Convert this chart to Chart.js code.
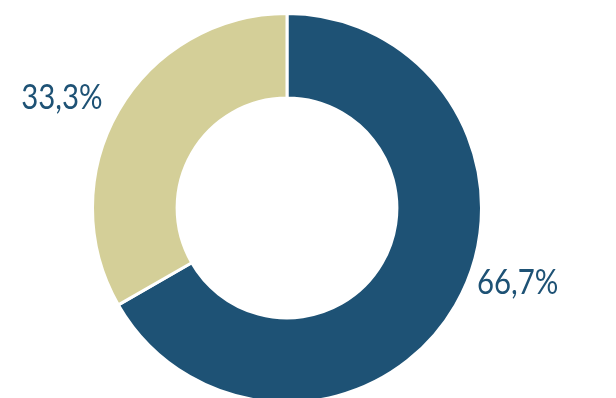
<!DOCTYPE html>
<html>
<head>
<meta charset="utf-8">
<script src="https://cdn.jsdelivr.net/npm/chart.js@4"></script>
<style>
  html, body { margin: 0; padding: 0; background: #fff; overflow: hidden; }
  #wrap { width: 616px; height: 398px; }
</style>
</head>
<body>
<div id="wrap"><canvas id="grafico" width="616" height="398"></canvas></div>
<script>
const categorie = ['A', 'B'];
const valori = [66.7, 33.3];
const colori = ['#1e5275', '#d4cf98'];
// angle (deg, canvas convention) and distance beyond the ring for each label
const angoliEtichette = [18, 206];
const distanzeEtichette = [48, 56];

const etichettePlugin = {
  id: 'etichette',
  afterDatasetsDraw(chart) {
    const ctx = chart.ctx;
    const meta = chart.getDatasetMeta(0);
    meta.data.forEach((arc, i) => {
      const a = angoliEtichette[i] * Math.PI / 180;
      const r = arc.outerRadius + distanzeEtichette[i];
      const x = arc.x + Math.cos(a) * r;
      const y = arc.y + Math.sin(a) * r;
      const testo = valori[i].toFixed(1).replace('.', ',') + '%';
      ctx.save();
      ctx.translate(x, y);
      ctx.scale(0.84, 1);
      ctx.font = '400 35px Lato';
      ctx.fillStyle = '#1e5275';
      ctx.textAlign = 'center';
      ctx.textBaseline = 'middle';
      ctx.fillText(testo, 0, 0);
      ctx.restore();
    });
  }
};

new Chart(document.getElementById('grafico').getContext('2d'), {
  type: 'doughnut',
  data: {
    labels: categorie,
    datasets: [{
      data: valori,
      backgroundColor: colori,
      borderColor: '#ffffff',
      borderWidth: 3,
      hoverOffset: 0
    }]
  },
  options: {
    responsive: false,
    animation: false,
    radius: 194.5,
    cutout: '56.5%',
    layout: { padding: { top: 18, right: 42 } },
    plugins: {
      legend: { display: false },
      tooltip: { enabled: false }
    }
  },
  plugins: [etichettePlugin]
});
</script>
</body>
</html>
